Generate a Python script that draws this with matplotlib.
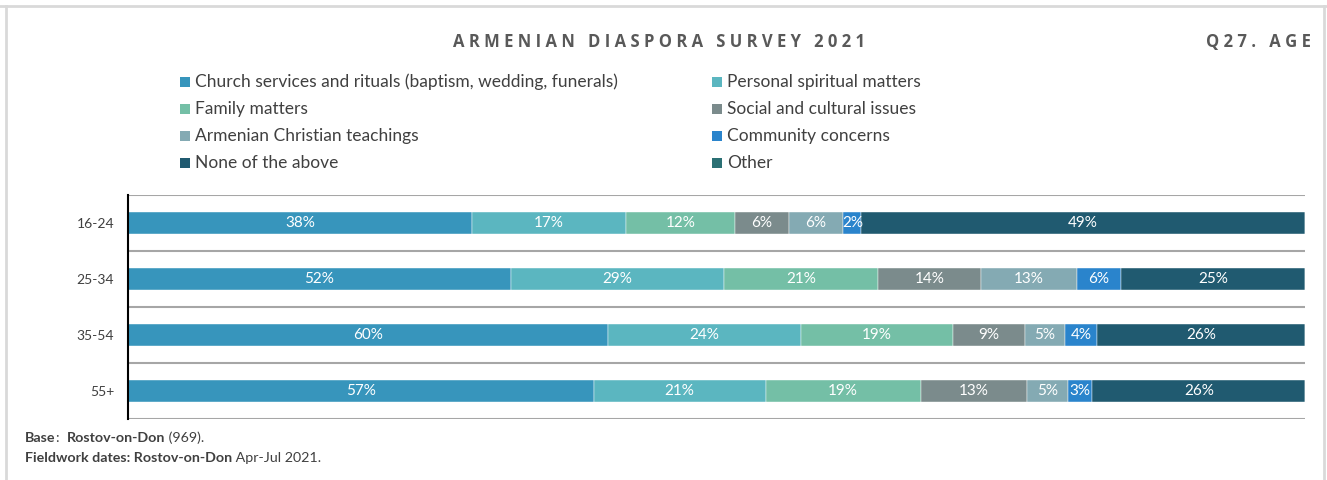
import matplotlib
matplotlib.use("Agg")
import matplotlib.pyplot as plt
from matplotlib.patches import Rectangle
from matplotlib.lines import Line2D
import numpy as np

categories = ["16-24", "25-34", "35-54", "55+"]
series_names = [
    "Church services and rituals (baptism, wedding, funerals)",
    "Personal spiritual matters",
    "Family matters",
    "Social and cultural issues",
    "Armenian Christian teachings",
    "Community concerns",
    "None of the above",
    "Other",
]
church = [38, 52, 60, 57]
personal = [17, 29, 24, 21]
family = [12, 21, 19, 19]
social = [6, 14, 9, 13]
teachings = [6, 13, 5, 5]
community = [2, 6, 4, 3]
none_above = [49, 25, 26, 26]
other = [0, 0, 0, 0]

colors = ["#3795bc", "#5bb6c0", "#74bfa6", "#7b8b8c", "#84aab3", "#2a84cc", "#205a70", "#2b7074"]

series = [church, personal, family, social, teachings, community, none_above, other]
vals = np.array(series, dtype=float)  # (8, 4)
totals = vals.sum(axis=0)
norm = vals / totals

W, H = 1327, 480
fig = plt.figure(figsize=(W / 100, H / 100), dpi=100)
fig.patch.set_facecolor("white")

def fx(x):
    return x / W

def fy(y):
    return 1 - y / H

# frame
fig.add_artist(Line2D([0, 1], [fy(6), fy(6)], color="#d9d9d9", lw=2))
fig.add_artist(Line2D([fx(6), fx(6)], [fy(6), 0], color="#d9d9d9", lw=2))
fig.add_artist(Line2D([fx(1324), fx(1324)], [fy(6), 0], color="#d9d9d9", lw=2))

ax = fig.add_axes([fx(128), fy(419), fx(1305) - fx(128), (419 - 195) / H])
y = np.arange(len(categories))
left = np.zeros(len(categories))
for i, name in enumerate(series_names):
    w = norm[i]
    ax.barh(y, w, left=left, height=0.41, color=colors[i], edgecolor="#ffffff", linewidth=0.3)
    for j in range(len(categories)):
        if vals[i, j] > 0:
            ax.text(left[j] + w[j] / 2, y[j], f"{int(vals[i, j])}%", ha="center", va="center",
                    color="white", fontsize=11, family="Lato")
    left = left + w

ax.set_xlim(0, 1)
ax.set_ylim(len(categories) - 0.5, -0.5)
for b in np.arange(-0.5, len(categories), 1.0):
    ax.axhline(b, color="#a6a6a6", lw=1.5, zorder=0)
for s in ["top", "right", "bottom"]:
    ax.spines[s].set_visible(False)
ax.spines["left"].set_color("black")
ax.spines["left"].set_linewidth(1.5)
ax.set_xticks([])
ax.set_yticks(y)
ax.set_yticklabels(categories, fontsize=10, color="#404040", family="Lato")
ax.tick_params(axis="y", length=0, pad=10)

# title
def track(s):
    return "   ".join(" ".join(word) for word in s.split(" "))

fig.text(fx(659), fy(42), track("ARMENIAN DIASPORA SURVEY 2021"), ha="center", va="center",
         fontsize=12, fontweight="bold", color="#595959", family="Open Sans")
fig.text(fx(1311), fy(42), track("Q27. AGE"), ha="right", va="center",
         fontsize=12, fontweight="bold", color="#595959", family="Open Sans")

# legend
col_x = [180, 712]
row_y = [82, 109, 136, 163]
for i, name in enumerate(series_names):
    c = i % 2
    r = i // 2
    x0 = col_x[c]
    y0 = row_y[r]
    fig.add_artist(Rectangle((fx(x0), fy(y0 + 5)), 10 / W, 10 / H, transform=fig.transFigure,
                             facecolor=colors[i], edgecolor="none"))
    fig.text(fx(x0 + 15), fy(y0), name, ha="left", va="center", fontsize=12.5, color="#404040",
             family="Lato")

# footer
fs = 10.3
kw = dict(ha="left", va="center", fontsize=fs, color="#404040", family="Lato", annotation_clip=False)
t1 = fig.text(fx(25), fy(438), "Base", ha="left", va="center", fontsize=fs, color="#404040",
              family="Lato", fontweight="bold")
t2 = ax.annotate(":  ", xy=(1, 0.5), xycoords=t1, **kw)
t3 = ax.annotate("Rostov-on-Don", xy=(1, 0.5), xycoords=t2, fontweight="bold", **kw)
ax.annotate(" (969).", xy=(1, 0.5), xycoords=t3, **kw)
t5 = fig.text(fx(25), fy(458), "Fieldwork dates: Rostov-on-Don", ha="left", va="center", fontsize=fs,
              color="#404040", family="Lato", fontweight="bold")
ax.annotate(" Apr-Jul 2021.", xy=(1, 0.5), xycoords=t5, **kw)

fig.savefig("out.png", dpi=100, facecolor="white")
